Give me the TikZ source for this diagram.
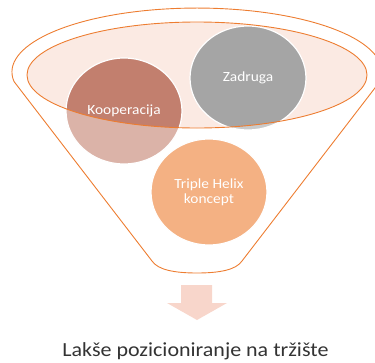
\documentclass[tikz,border=0pt]{standalone}
\usepackage{fontspec}
\newfontfamily\calfont[FakeStretch=1.1]{Carlito}
\definecolor{funnelorange}{HTML}{ED7D31}
\definecolor{mouthfill}{HTML}{FBEAE3}
\definecolor{koopdark}{HTML}{C27F6E}
\definecolor{kooplight}{HTML}{DBB3A8}
\definecolor{zaddark}{HTML}{A5A5A5}
\definecolor{zadlight}{HTML}{CACACA}
\definecolor{helixfill}{HTML}{F4B183}
\definecolor{arrowfill}{HTML}{F8D6CB}
\definecolor{goaltext}{HTML}{333333}
\tikzset{
  circlbl/.style={font=\calfont\fontsize{14bp}{15bp}\selectfont, text=white, align=center, inner sep=0pt},
  goallbl/.style={font=\calfont\fontsize{20bp}{24bp}\selectfont, text=goaltext, inner sep=0pt},
  rimline/.style={draw=funnelorange, line width=0.9bp},
  circborder/.style={draw=white, line width=1.2bp}
}
\begin{document}
\begin{tikzpicture}[x=1bp,y=-1bp]
\useasboundingbox (0,0) rectangle (375,363);
% funnel outline
\draw[rimline, line join=round] (14,81.5) arc[start angle=-188.5,end angle=8.5,x radius=185,y radius=64]
  -- (242,261) .. controls (236,270) and (219,273) .. (197,273)
  .. controls (175,273) and (158,270) .. (152,261) -- cycle;
% mouth fill
\fill[mouthfill] (197,75) ellipse[x radius=170,y radius=53];
% circles, light parts
\fill[kooplight] (124,111) ellipse[x radius=58,y radius=53];
\fill[zadlight] (248,78) ellipse[x radius=58,y radius=52];
\fill[helixfill] (209,192) ellipse[x radius=58,y radius=53];
% darker parts inside the mouth
\begin{scope}
  \clip (197,75) ellipse[x radius=170,y radius=53];
  \fill[koopdark] (124,111) ellipse[x radius=58,y radius=53];
  \fill[zaddark] (248,78) ellipse[x radius=58,y radius=52];
\end{scope}
% white borders
\draw[circborder] (124,111) ellipse[x radius=58,y radius=53];
\draw[circborder] (248,78) ellipse[x radius=58,y radius=52];
\draw[circborder] (209,192) ellipse[x radius=58,y radius=53];
% mouth outline
\draw[rimline] (197,75) ellipse[x radius=170,y radius=53];
% labels
\node[circlbl, anchor=base] (koop) at (124,114) {Kooperacija};
\node[circlbl, anchor=base] (zad) at (248,81.5) {Zadruga};
\node[circlbl] (helix) at (209,192) {Triple Helix\\koncept};
% arrow
\fill[arrowfill] (181,285) -- (212,285) -- (212,303) -- (227,303) -- (197,320) -- (167,303) -- (181,303) -- cycle;
% result
\node[goallbl, anchor=base] (goal) at (195.5,356) {Lakše pozicioniranje na tržište};
\end{tikzpicture}
\end{document}
